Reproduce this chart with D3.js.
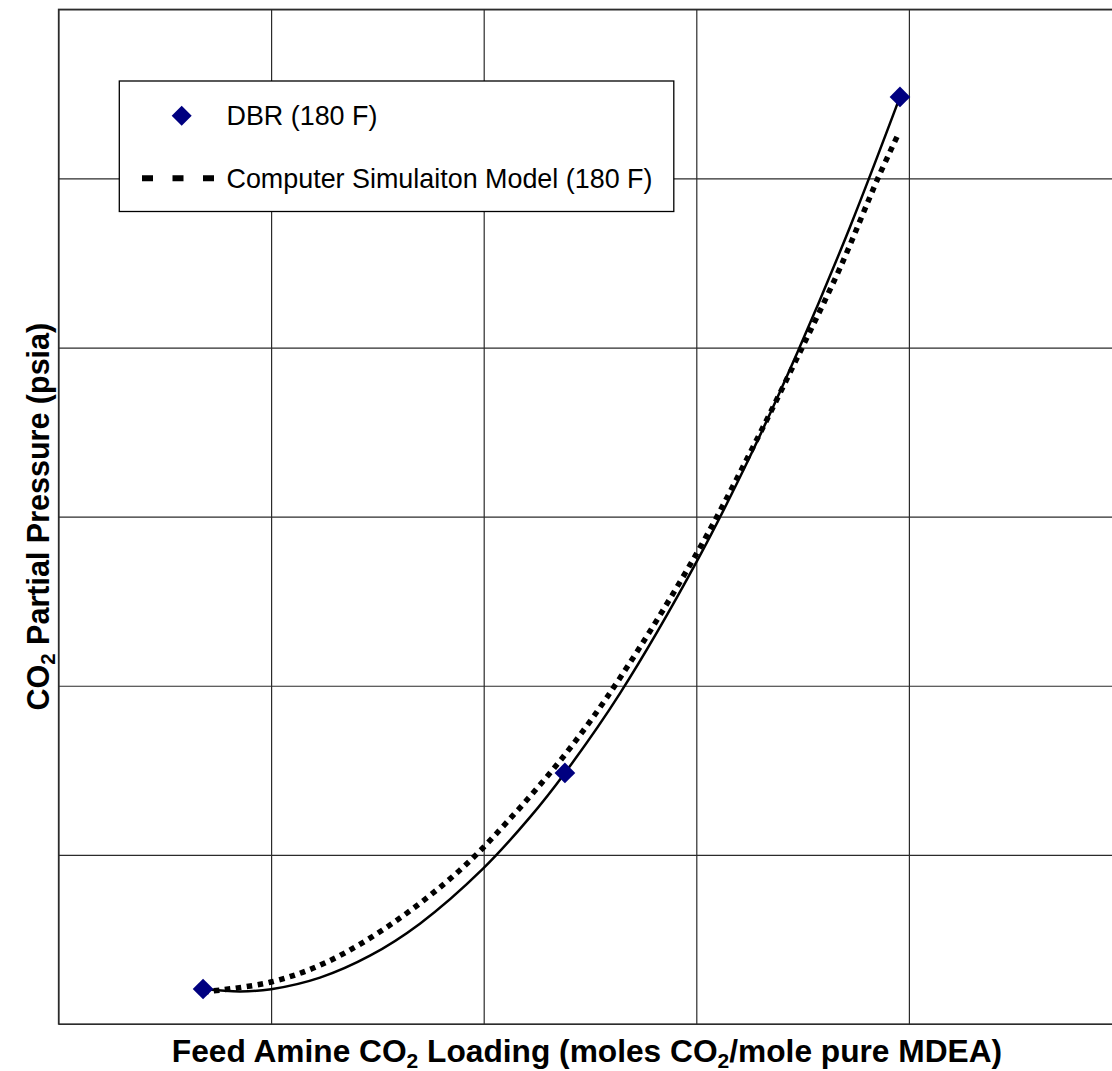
<!DOCTYPE html>
<html lang="en">
  <head>
    <meta charset="UTF-8" />
    <title>CO2 Partial Pressure vs Feed Amine Loading</title>
    <script src="https://cdn.jsdelivr.net/npm/d3@7"></script>
    <style>
      body {
        margin: 0;
        overflow: hidden;
        background: white;
      }
      svg {
        display: block;
        font-family: "Liberation Sans", Arial, sans-serif;
      }
    </style>
  </head>
  <body>
    <script>
      // values (no tick labels shown, so units are nominal)
      const xTicks = [0, 0.1, 0.2, 0.3, 0.4, 0.5];
      const yTicks = [0, 0.5, 1.0, 1.5, 2.0, 2.5, 3.0];

      const dbrLoading = [0.068, 0.2382, 0.3958];
      const dbrPressure = [0.1035, 0.7422, 2.741];

      // solid trend curve through the DBR points
      const trendLoading = [0.068, 0.0854, 0.1, 0.123, 0.1465, 0.17, 0.1997, 0.2218, 0.2382, 0.2641, 0.3003, 0.3253, 0.3478, 0.3723, 0.3958];
      const trendPressure = [0.1035, 0.0964, 0.1029, 0.1372, 0.202, 0.2966, 0.4592, 0.6115, 0.7422, 0.9775, 1.3684, 1.6786, 1.9891, 2.3566, 2.741];

      // computer simulation model (dotted)
      const simLoading = [0.068, 0.1, 0.1263, 0.1573, 0.1889, 0.211, 0.2392, 0.2641, 0.3003, 0.3267, 0.3497, 0.3676, 0.3855, 0.3944];
      const simPressure = [0.0946, 0.1242, 0.1833, 0.2986, 0.4554, 0.5973, 0.8043, 1.0231, 1.3927, 1.7061, 1.9988, 2.2354, 2.5015, 2.6227];

      const legendLabels = ["DBR (180 F)", "Computer Simulaiton Model (180 F)"];

      const width = 1112;
      const height = 1071;
      const marginLeft = 58.5;
      const marginTop = 9.3;
      const plotW = 1063;
      const plotH = 1014.7;

      const x = d3.scaleLinear().domain([0, 0.5]).range([marginLeft, marginLeft + plotW]);
      const y = d3.scaleLinear().domain([0, 3]).range([marginTop + plotH, marginTop]);

      const svg = d3
        .select("body")
        .append("svg")
        .attr("width", width)
        .attr("height", height);

      // gridlines
      svg
        .append("g")
        .attr("transform", "translate(0," + (marginTop + plotH) + ")")
        .call(d3.axisBottom(x).tickValues(xTicks).tickSize(-plotH).tickFormat(""))
        .call(g => g.select(".domain").remove())
        .call(g => g.selectAll("line").attr("stroke", "#2b2b2b").attr("stroke-width", 1.2));

      svg
        .append("g")
        .attr("transform", "translate(" + marginLeft + ",0)")
        .call(d3.axisLeft(y).tickValues(yTicks).tickSize(-plotW).tickFormat(""))
        .call(g => g.select(".domain").remove())
        .call(g => g.selectAll("line").attr("stroke", "#2b2b2b").attr("stroke-width", 1.2));

      svg
        .append("rect")
        .attr("x", marginLeft)
        .attr("y", marginTop)
        .attr("width", plotW)
        .attr("height", plotH)
        .attr("fill", "none")
        .attr("stroke", "#2b2b2b")
        .attr("stroke-width", 1.3);

      const line = d3
        .line()
        .x(d => x(d[0]))
        .y(d => y(d[1]))
        .curve(d3.curveCatmullRom.alpha(0.5));

      svg
        .append("path")
        .datum(d3.zip(simLoading, simPressure))
        .attr("d", line)
        .attr("fill", "none")
        .attr("stroke", "black")
        .attr("stroke-width", 5.5)
        .attr("stroke-dasharray", "5.5,5.5");

      svg
        .append("path")
        .datum(d3.zip(trendLoading, trendPressure))
        .attr("d", line)
        .attr("fill", "none")
        .attr("stroke", "black")
        .attr("stroke-width", 2.5);

      const diamond = d3.symbol(d3.symbolSquare, 214);

      svg
        .selectAll(".dot")
        .data(d3.zip(dbrLoading, dbrPressure))
        .enter()
        .append("path")
        .attr("class", "dot")
        .attr("d", diamond)
        .attr("fill", "#000080")
        .attr("transform", d => "translate(" + x(d[0]) + "," + y(d[1]) + ") rotate(45)");

      // legend
      const legend = svg.append("g");
      legend
        .append("rect")
        .attr("x", 119.3)
        .attr("y", 81)
        .attr("width", 554.5)
        .attr("height", 130.5)
        .attr("fill", "white")
        .attr("stroke", "black")
        .attr("stroke-width", 1.3);

      legend
        .append("path")
        .attr("d", d3.symbol(d3.symbolSquare, 200))
        .attr("fill", "#000080")
        .attr("transform", "translate(181.7,115.7) rotate(45)");

      legend
        .append("line")
        .attr("x1", 142)
        .attr("x2", 215)
        .attr("y1", 178.3)
        .attr("y2", 178.3)
        .attr("stroke", "black")
        .attr("stroke-width", 6)
        .attr("stroke-dasharray", "11,19.5");

      legend
        .selectAll(".ltext")
        .data(legendLabels)
        .enter()
        .append("text")
        .attr("class", "ltext")
        .attr("x", 226.5)
        .attr("y", (d, i) => (i === 0 ? 125.3 : 187.9))
        .attr("font-size", 26.9)
        .attr("fill", "black")
        .text(d => d);

      // axis titles
      const xTitle = svg
        .append("text")
        .attr("x", 587)
        .attr("y", 1062)
        .attr("text-anchor", "middle")
        .attr("font-size", 31.7)
        .attr("font-weight", "bold");
      xTitle.append("tspan").text("Feed Amine CO");
      xTitle.append("tspan").attr("font-size", 21).attr("dy", 6).text("2");
      xTitle.append("tspan").attr("dy", -6).text(" Loading (moles CO");
      xTitle.append("tspan").attr("font-size", 21).attr("dy", 6).text("2");
      xTitle.append("tspan").attr("dy", -6).text("/mole pure MDEA)");

      const yTitle = svg
        .append("text")
        .attr("transform", "translate(49," + (marginTop + plotH / 2) + ") rotate(-90)")
        .attr("text-anchor", "middle")
        .attr("font-size", 30.5)
        .attr("font-weight", "bold");
      yTitle.append("tspan").text("CO");
      yTitle.append("tspan").attr("font-size", 20.5).attr("dy", 6).text("2");
      yTitle.append("tspan").attr("dy", -6).text(" Partial Pressure (psia)");
    </script>
  </body>
</html>
